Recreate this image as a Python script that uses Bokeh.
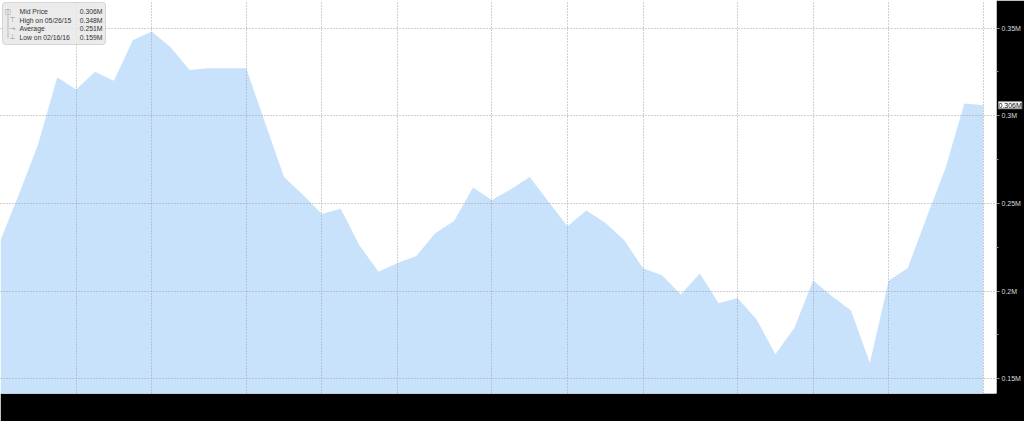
import pandas as pd
from bokeh.plotting import figure
from bokeh.models import Range1d, FixedTicker, Label, BoxAnnotation
from bokeh.embed import file_html
from bokeh.resources import INLINE

# ---- data ----
start_date = "2015-03-31"
mid_price = [0.229, 0.256, 0.284, 0.322, 0.315, 0.325, 0.320, 0.343, 0.348, 0.339,
             0.326, 0.327, 0.327, 0.327, 0.296, 0.265, 0.255, 0.244, 0.247, 0.226,
             0.211, 0.216, 0.220, 0.233, 0.240, 0.259, 0.252, 0.258, 0.265, 0.251,
             0.237, 0.246, 0.239, 0.229, 0.213, 0.209, 0.198, 0.210, 0.193, 0.196,
             0.184, 0.164, 0.179, 0.206, 0.197, 0.189, 0.159, 0.206, 0.213, 0.242,
             0.270, 0.307, 0.306]
dates = pd.date_range(start_date, periods=len(mid_price), freq="7D")
grid_dates = ["2015-04-28", "2015-05-26", "2015-06-30", "2015-07-28", "2015-08-25",
              "2015-09-29", "2015-10-27", "2015-11-24", "2015-12-29", "2016-01-26",
              "2016-02-23", "2016-03-29"]
y_ticks = [0.15, 0.20, 0.25, 0.30, 0.35]
y_tick_labels = ["0.15M", "0.2M", "0.25M", "0.3M", "0.35M"]
y_minor_ticks = [0.125, 0.175, 0.225, 0.275, 0.325, 0.375]

# ---- summary ----
s = pd.Series(mid_price, index=dates)
last_v = s.iloc[-1]
hi_v, hi_d = s.max(), s.idxmax()
lo_v, lo_d = s.min(), s.idxmin()
avg_v = s.mean()

W, H = 1024, 421
FW, FH = 996, 393
Y0, Y1 = 0.1416, 0.3657
week = pd.Timedelta(days=7)
x0 = pd.Timestamp(start_date)
x1 = pd.Timestamp(start_date) + 52.7 * week

p = figure(width=W, height=H, output_backend="svg", toolbar_location=None,
           x_axis_type="datetime", y_axis_location="right",
           x_range=Range1d(x0, x1), y_range=Range1d(Y0, Y1),
           min_border_left=0, min_border_top=0, min_border_right=28,
           min_border_bottom=28)
p.border_fill_color = "black"
p.background_fill_color = "white"
p.outline_line_color = None

p.varea(x=dates, y1=0, y2=mid_price, fill_color="#c8e2fb", fill_alpha=1.0)

p.xaxis.visible = False
p.xaxis.ticker = FixedTicker(ticks=[pd.Timestamp(d).value / 1e6 for d in grid_dates])
ax = p.yaxis[0]
ax.ticker = FixedTicker(ticks=y_ticks, minor_ticks=y_minor_ticks)
ax.major_label_overrides = {t: l for t, l in zip(y_ticks, y_tick_labels)}
ax.axis_line_color = None
ax.major_tick_line_color = "#999999"
ax.major_tick_out = 3
ax.major_tick_in = 0
ax.minor_tick_line_color = "#999999"
ax.minor_tick_out = 2
ax.minor_tick_in = 0
ax.major_label_standoff = 2
ax.major_label_text_color = "#dddddd"
ax.major_label_text_font = "Liberation Sans"
ax.major_label_text_font_size = "7px"

for g in (p.xgrid[0], p.ygrid[0]):
    g.grid_line_color = "#a0a0a0"
    g.grid_line_dash = "1 2"
    g.grid_line_width = 1
    g.level = "overlay"

# last value callout, held in the (otherwise empty) bottom side panel so it is
# not clipped to the frame; drawn in the right-hand axis band
p.add_layout(Label(x=FW + 2, y=last_v, x_units="canvas", y_units="data",
                   text=f"{last_v:.3f}M", text_font="Liberation Sans",
                   text_font_size="7px", text_color="black",
                   text_baseline="middle", background_fill_color="white",
                   border_line_color="#999999"), "below")

# legend box (screen units, measured from frame bottom)
p.add_layout(BoxAnnotation(left=2, right=105, top=FH - 2, bottom=FH - 44,
                           left_units="screen", right_units="screen",
                           top_units="screen", bottom_units="screen",
                           fill_color="#e8e8e8", fill_alpha=0.85,
                           line_color="#8a8a8a", line_width=1, border_radius=3,
                           level="overlay"))
p.add_layout(BoxAnnotation(left=7, right=8, top=FH - 9, bottom=FH - 38,
                           left_units="screen", right_units="screen",
                           top_units="screen", bottom_units="screen",
                           fill_color="#b8b8b8", fill_alpha=1.0, line_color=None,
                           level="overlay"))
rows = [("Mid Price", f"{last_v:.3f}M", "\u25a1"),
        (f"High on {hi_d:%m/%d/%y}", f"{hi_v:.3f}M", "\u22a4"),
        ("Average", f"{avg_v:.3f}M", "\u2192"),
        (f"Low on {lo_d:%m/%d/%y}", f"{lo_v:.3f}M", "\u22a5")]
for i, (name, val, icon) in enumerate(rows):
    yy = FH - 11 - i * 8.5
    p.add_layout(Label(x=4 if i == 0 else 9, y=yy, x_units="screen", y_units="screen",
                       text=icon, text_font="DejaVu Sans", text_font_size="7px",
                       text_color="#999999", text_baseline="middle", level="overlay"))
    p.add_layout(Label(x=19, y=yy, x_units="screen", y_units="screen", text=name,
                       text_font="Liberation Sans", text_font_size="6.8px",
                       text_color="#333333", text_baseline="middle", level="overlay"))
    p.add_layout(Label(x=102, y=yy, x_units="screen", y_units="screen", text=val,
                       text_font="Liberation Sans", text_font_size="6.8px",
                       text_color="#333333", text_baseline="middle", text_align="right",
                       level="overlay"))

open("out.html", "w").write(file_html(p, INLINE))
